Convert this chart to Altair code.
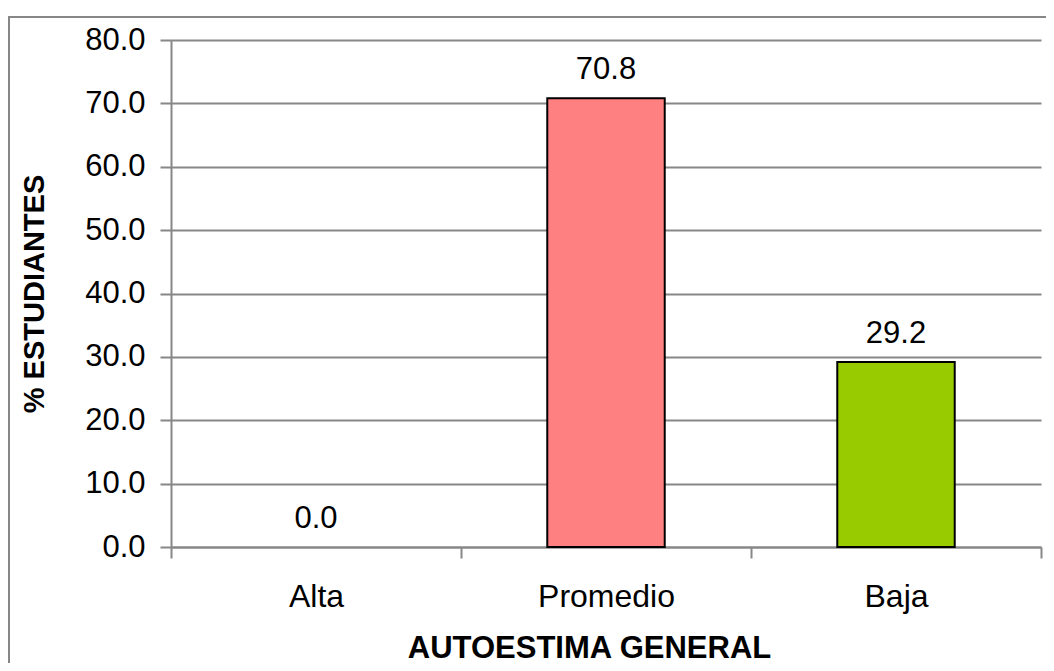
import altair as alt
import pandas as pd

categories = ["Alta", "Promedio", "Baja"]
values = [0.0, 70.8, 29.2]
colors = ["#FF8080", "#FF8080", "#99CC00"]

df = pd.DataFrame({"cat": categories, "val": values, "color": colors})

FONT = "Liberation Sans, Arial, sans-serif"
GRAY = "#878787"

x_enc = alt.X(
    "cat:N",
    sort=categories,
    scale=alt.Scale(paddingInner=0, paddingOuter=0),
    axis=alt.Axis(
        title="AUTOESTIMA GENERAL",
        labelAngle=0,
        tickBand="extent",
        tickSize=11,
        tickColor=GRAY,
        tickWidth=2,
        domainColor=GRAY,
        domainWidth=2,
        labelPadding=23,
        labelFontSize=32,
        labelColor="black",
        titleFontSize=31,
        titleFontWeight="bold",
        titleColor="black",
        titlePadding=21,
        titleX=418,
        titleAnchor="start",
        titleAlign="center",
        grid=False,
    ),
)
y_enc = alt.Y(
    "val:Q",
    scale=alt.Scale(domain=[0, 80], nice=False),
    axis=alt.Axis(
        title="% ESTUDIANTES",
        values=[0, 10, 20, 30, 40, 50, 60, 70, 80],
        format=".1f",
        tickSize=11,
        tickColor=GRAY,
        tickWidth=2,
        domainColor=GRAY,
        domainWidth=2,
        gridColor=GRAY,
        gridWidth=2,
        labelPadding=15,
        labelFontSize=31,
        labelColor="black",
        titleFontSize=29,
        titleFontWeight="bold",
        titleColor="black",
        titlePadding=35,
    ),
)

bars = alt.Chart(df).mark_bar(
    width=alt.RelativeBandSize(0.405), stroke="black"
).encode(
    x=x_enc,
    y=y_enc,
    color=alt.Color("color:N", scale=None),
    strokeWidth=alt.condition(alt.datum.val > 0, alt.value(2), alt.value(0)),
)

labels = alt.Chart(df).mark_text(
    baseline="alphabetic", dy=-19, fontSize=31, color="black", font=FONT
).encode(
    x=alt.X("cat:N", sort=categories),
    y=alt.Y("val:Q"),
    text=alt.Text("val:Q", format=".1f"),
)

border = alt.Chart(pd.DataFrame({"a": [0]})).mark_rect(
    fill=None, stroke=GRAY, strokeWidth=2
).encode(
    x=alt.value(-162),
    x2=alt.value(1000),
    y=alt.value(-23),
    y2=alt.value(800),
)

chart = alt.layer(border, bars, labels).properties(
    width=870,
    height=507,
    padding={"left": 163, "top": 32, "right": 5, "bottom": 116},
    autosize=alt.AutoSizeParams(type="none"),
).configure(
    font=FONT,
    background="white",
).configure_view(stroke=None)

chart.save("out.html", embed_options={"renderer": "svg", "actions": False})
